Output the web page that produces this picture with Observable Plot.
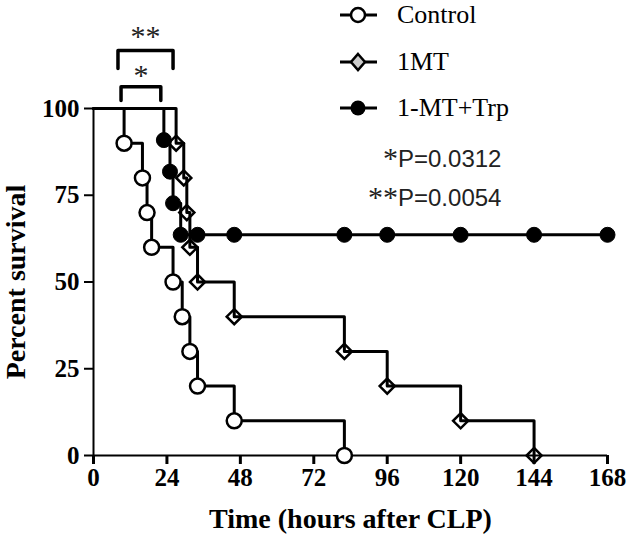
<!DOCTYPE html>
<html><head><meta charset="utf-8">
<script src="https://cdn.jsdelivr.net/npm/d3@7"></script>
<script src="https://cdn.jsdelivr.net/npm/@observablehq/plot@0.6"></script>
<style>
body{margin:0;background:#fff;}
#wrap{position:relative;width:630px;height:541px;overflow:hidden;}
g[aria-label="x-axis label"] text, g[aria-label="y-axis label"] text{font-size:28px;}
.leg{position:absolute;left:0;top:0;width:630px;height:541px;pointer-events:none;}
.row{position:absolute;left:335px;height:28px;display:flex;align-items:center;white-space:nowrap;}
.row svg{display:block;}
.row span{font-family:"Liberation Serif",serif;font-size:26px;line-height:28px;color:#000;margin-left:15px;}
.prow{position:absolute;left:0;width:398px;height:34px;white-space:nowrap;}
.prow .st{position:absolute;right:0;top:0;font-family:"Liberation Serif",serif;font-size:30px;line-height:34px;color:#222;}
.prow .pv{position:absolute;left:398px;top:2px;font-family:"Liberation Sans",sans-serif;font-size:24px;line-height:32px;color:#222;}
</style></head><body><div id="wrap"></div>
<script>
// ---- data ----
const groups = ["Control", "1MT", "1-MT+Trp"];
const controlTimes = [10, 16, 17.5, 19, 26, 29, 31.5, 34, 46, 82];
const controlSurv  = [90, 80, 70, 60, 50, 40, 30, 20, 10, 0];
const mtTimes = [27, 29.5, 30.5, 31.5, 34, 46, 82, 96, 120, 144];
const mtSurv  = [90, 80, 70, 60, 50, 40, 30, 20, 10, 0];
const trpTimes = [23, 25, 26, 28.5];
const trpSurv  = [90.9, 81.8, 72.7, 63.6];
const trpCensorTimes = [34, 46, 82, 96, 120, 144, 168];
const xTicks = [0, 24, 48, 72, 96, 120, 144, 168];
const yTicks = [0, 25, 50, 75, 100];
const sigLabels = ["**", "*"];
const sigStart = [8, 9];
const sigEnd = [26, 22];
const pStars = ["*", "**"];
const pValues = ["P=0.0312", "P=0.0054"];

// ---- build tables ----
const startRow = g => ({group: g, t: 0, s: 100});
const controlEv = controlTimes.map((t, i) => ({group: groups[0], t, s: controlSurv[i]}));
const mtEv = mtTimes.map((t, i) => ({group: groups[1], t, s: mtSurv[i]}));
const trpEv = trpTimes.map((t, i) => ({group: groups[2], t, s: trpSurv[i]}));
const trpCens = trpCensorTimes.map(t => ({group: groups[2], t, s: trpSurv[trpSurv.length - 1]}));
const lineRows = [
  startRow(groups[0]), ...controlEv,
  startRow(groups[1]), ...mtEv,
  startRow(groups[2]), ...trpEv, ...trpCens
];
const trpDots = [...trpEv, ...trpCens];

// significance brackets (upper one "**", lower one "*")
const bracketLevels = [[111.5, 116.7], [102.3, 106.3]];
const bracketRows = [];
sigLabels.forEach((lab, i) => {
  const [leg, top] = bracketLevels[i];
  bracketRows.push({k: i, t: sigStart[i], s: leg}, {k: i, t: sigStart[i], s: top},
                   {k: i, t: sigEnd[i], s: top}, {k: i, t: sigEnd[i], s: leg});
});
const starRows = sigLabels.map((lab, i) => ({lab, t: (sigStart[i] + sigEnd[i]) / 2, s: bracketLevels[i][1] + [4.0, 3.2][i]}));

const chart = Plot.plot({
  width: 630, height: 541,
  marginLeft: 93, marginRight: 23, marginTop: 108, marginBottom: 86,
  style: {fontFamily: "'Liberation Serif', serif", fontSize: "25px", color: "#000", background: "transparent", overflow: "visible"},
  x: {domain: [0, 168], ticks: xTicks, label: null},
  y: {domain: [0, 100], ticks: yTicks, label: null},
  marks: [
    Plot.axisX({ticks: xTicks, tickSize: 9, tickPadding: 4, strokeWidth: 3, fontWeight: "bold", label: "Time (hours after CLP)", labelAnchor: "center", labelOffset: 72, labelArrow: "none"}),
    Plot.axisY({ticks: yTicks, tickSize: 9, tickPadding: 5, strokeWidth: 2, fontWeight: "bold", label: "Percent survival", labelAnchor: "center", labelOffset: 88, labelArrow: "none"}),
    Plot.ruleY([0], {stroke: "#000", strokeWidth: 2}),
    Plot.ruleX([0], {stroke: "#000", strokeWidth: 2}),
    Plot.line(lineRows, {x: "t", y: "s", z: "group", curve: "step-after", stroke: "#000", strokeWidth: 3}),
    Plot.line(bracketRows, {x: "t", y: "s", z: "k", stroke: "#000", strokeWidth: 3.5}),
    Plot.text(starRows, {x: "t", y: "s", text: "lab", fontSize: 30, fill: "#222"}),
    Plot.dot(controlEv, {x: "t", y: "s", r: 7.5, fill: "#fff", stroke: "#000", strokeWidth: 2.5}),
    Plot.dot(mtEv, {x: "t", y: "s", symbol: "diamond2", r: 6.8, fill: "none", stroke: "#000", strokeWidth: 2.5}),
    Plot.dot(trpDots, {x: "t", y: "s", r: 7.5, fill: "#000", stroke: "#000", strokeWidth: 1})
  ]
});
const wrap = document.getElementById("wrap");
wrap.appendChild(chart);

// ---- legend & p-values overlay ----
const leg = document.createElement("div");
leg.className = "leg";
const rowTops = [1, 48, 94];
const swatch = [
  '<circle cx="23" cy="14" r="7" fill="#fff" stroke="#000" stroke-width="2.5"/>',
  '<path d="M23 6 L30 14 L23 22 L16 14 Z" fill="#ccc" stroke="#000" stroke-width="2.5"/>',
  '<circle cx="23" cy="14" r="7.5" fill="#000"/>'
];
groups.forEach((g, i) => {
  const r = document.createElement("div");
  r.className = "row";
  r.style.top = rowTops[i] + "px";
  r.innerHTML = '<svg width="47" height="28"><line x1="5" x2="42" y1="14" y2="14" stroke="#000" stroke-width="3"/>' + swatch[i] + '</svg><span>' + g + '</span>';
  leg.appendChild(r);
});
const pTops = [141, 180];
pValues.forEach((p, i) => {
  const r = document.createElement("div");
  r.className = "prow";
  r.style.top = pTops[i] + "px";
  r.innerHTML = '<span class="st">' + pStars[i] + '</span><span class="pv">' + p + '</span>';
  leg.appendChild(r);
});
wrap.appendChild(leg);
</script>
</body></html>
